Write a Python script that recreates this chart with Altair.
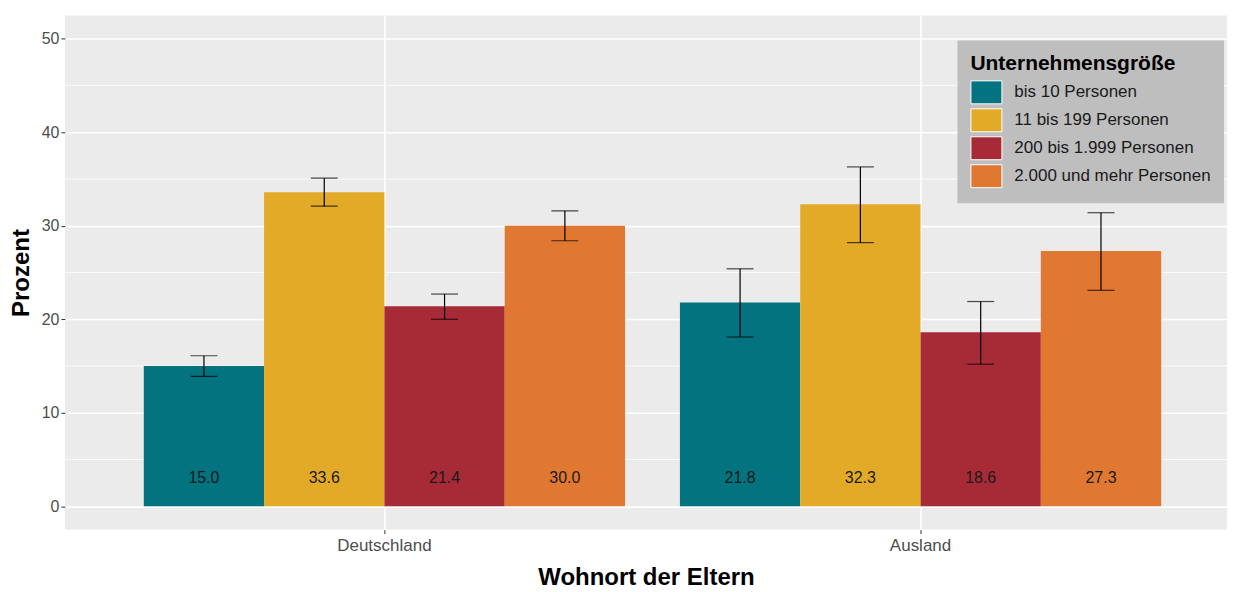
import altair as alt
import pandas as pd

wohnort = ["Deutschland"] * 4 + ["Ausland"] * 4
groesse_order = ["bis 10 Personen", "11 bis 199 Personen", "200 bis 1.999 Personen", "2.000 und mehr Personen"]
groesse = groesse_order * 2
prozent = [15.0, 33.6, 21.4, 30.0, 21.8, 32.3, 18.6, 27.3]
ci_lo = [13.9, 32.1, 20.0, 28.4, 18.1, 28.2, 15.2, 23.1]
ci_hi = [16.1, 35.1, 22.7, 31.6, 25.4, 36.3, 21.9, 31.4]
colors = ["#03737F", "#E3AA27", "#A72B36", "#E07832"]
major_ticks = [0, 10, 20, 30, 40, 50]
minor_ticks = [5, 15, 25, 35, 45]

df = pd.DataFrame({"Wohnort": wohnort, "Groesse": groesse, "Prozent": prozent,
                   "lo": ci_lo, "hi": ci_hi})
df["label"] = [f"{v:.1f}" for v in prozent]
minor_df = pd.DataFrame({"m": minor_ticks})

FONT = "Liberation Sans"

xscale = alt.Scale(paddingInner=0.1024, paddingOuter=0.135, align=0.545)
xax = alt.Axis(title="Wohnort der Eltern", labelAngle=0, labelColor="#4D4D4D", labelFontSize=17,
               labelFont=FONT, tickColor="#333333", tickSize=4, tickWidth=1, domain=False,
               grid=True, gridColor="white", gridWidth=1.6, bandPosition=0.5,
               titleFont=FONT, titleFontSize=24, titleFontWeight="bold", titleColor="black",
               labelPadding=4, titlePadding=12)
yscale = alt.Scale(domain=[-2.5, 52.5], nice=False, zero=False)
yax = alt.Axis(title="Prozent", values=major_ticks, labelColor="#4D4D4D", labelFontSize=16,
               labelFont=FONT, tickColor="#333333", tickSize=4, tickWidth=1, domain=False,
               grid=True, gridColor="white", gridWidth=1.6, labelPadding=2,
               titleFont=FONT, titleFontSize=24, titleFontWeight="bold", titleColor="black",
               titlePadding=8)
xenc = alt.X("Wohnort:N", sort=["Deutschland", "Ausland"], scale=xscale, axis=xax)
xoff = alt.XOffset("Groesse:N", sort=groesse_order, scale=alt.Scale(paddingInner=0, paddingOuter=0))

minor = alt.Chart(minor_df).mark_rule(color="white", strokeWidth=0.8).encode(
    y=alt.Y("m:Q", scale=yscale, axis=yax)
)

bars = alt.Chart(df).mark_bar().encode(
    x=xenc,
    xOffset=xoff,
    y=alt.Y("Prozent:Q", scale=yscale, axis=yax),
    color=alt.Color("Groesse:N", sort=groesse_order,
                    scale=alt.Scale(domain=groesse_order, range=colors),
                    legend=alt.Legend(title="Unternehmensgröße")),
)

rules = alt.Chart(df).mark_rule(color="black", strokeWidth=1.2).encode(
    x=xenc, xOffset=xoff,
    y=alt.Y("lo:Q", scale=yscale, axis=yax), y2="hi:Q",
)

ticks_lo = alt.Chart(df).mark_tick(color="black", size=27, thickness=1.2, orient="horizontal").encode(
    x=xenc, xOffset=xoff, y=alt.Y("lo:Q", scale=yscale, axis=yax),
)
ticks_hi = alt.Chart(df).mark_tick(color="black", size=27, thickness=1.2, orient="horizontal").encode(
    x=xenc, xOffset=xoff, y=alt.Y("hi:Q", scale=yscale, axis=yax),
)

texts = alt.Chart(df).mark_text(fontSize=16, font=FONT, color="#1A1A1A", baseline="middle").encode(
    x=xenc, xOffset=xoff, y=alt.datum(3), text="label:N",
)

chart = alt.layer(minor, bars, rules, ticks_lo, ticks_hi, texts).properties(
    width=1164, height=515, background="white",
    padding={"left": 1, "top": 7, "right": 0, "bottom": 0},
).configure_view(
    fill="#EBEBEB", stroke=None
).configure_legend(
    orient="none", legendX=894, legendY=25, fillColor="#BEBEBE", padding=13,
    titleFont=FONT, titleFontSize=21, titleFontWeight="bold", titleColor="black", titlePadding=6,
    titleLimit=400,
    labelFont=FONT, labelFontSize=17, labelColor="#1A1A1A", labelOffset=20, labelLimit=400,
    symbolType="M-1,-1H1.7V1H-1Z", symbolSize=529, symbolStrokeColor="white",
    symbolStrokeWidth=1, symbolOpacity=1, rowPadding=0, cornerRadius=0,
)

chart.save("out.html", embed_options={"renderer": "svg", "actions": False})
